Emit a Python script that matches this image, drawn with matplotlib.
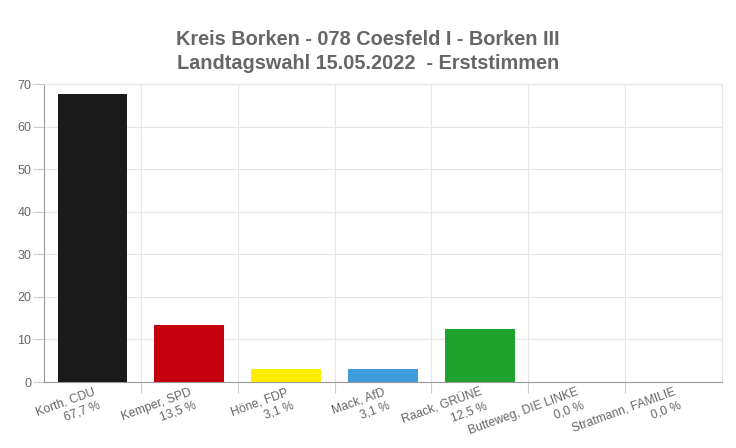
import matplotlib.pyplot as plt

plt.rcParams['font.family'] = ['Liberation Sans', 'DejaVu Sans']

names = ['Korth, CDU', 'Kemper, SPD', 'Höne, FDP', 'Mack, AfD',
         'Raack, GRÜNE', 'Butteweg, DIE LINKE', 'Stratmann, FAMILIE']
values = [67.7, 13.5, 3.1, 3.1, 12.5, 0.0, 0.0]
colors = ['#1a1a1a', '#c4000e', '#ffed00', '#3f9bdb', '#1fa22e', '#888888', '#888888']

labels = [n + '\n' + ('%.1f' % v).replace('.', ',') + ' %' for n, v in zip(names, values)]

fig = plt.figure(figsize=(7.36, 4.48), dpi=100)
ax = fig.add_axes([0.0598, 0.1473, 0.921, 0.665])

x = list(range(len(values)))
ax.bar(x, values, width=0.72, color=colors, zorder=3)

ax.set_xlim(-0.5, len(values) - 0.5)
ax.set_ylim(0, 70)
ax.set_yticks(range(0, 71, 10))
ax.set_xticks([i + 0.5 for i in x[:-1]], minor=False)
ax.set_xticklabels([])
ax.set_xticks(x, minor=True)
ax.set_xticklabels(labels, minor=True, rotation=20, ha='right',
                   rotation_mode='anchor', multialignment='right',
                   fontsize=8.7, color='#666666', linespacing=1.25)
ax.tick_params(axis='x', which='minor', length=0, pad=3)
ax.tick_params(axis='x', which='major', length=8, color='#cccccc')
ax.tick_params(axis='y', length=8, color='#cccccc', labelsize=9, labelcolor='#666666', pad=1)

ax.grid(True, which='major', color='#e6e6e6', linewidth=0.8, zorder=0)
for s in ['top', 'right']:
    ax.spines[s].set_color('#e6e6e6')
for s in ['left', 'bottom']:
    ax.spines[s].set_color('#999999')

fig.text(0.5, 0.933, 'Kreis Borken - 078 Coesfeld I - Borken III\nLandtagswahl 15.05.2022  - Erststimmen',
         ha='center', va='top', fontsize=14.3, fontweight='bold', color='#666666',
         linespacing=1.35)

fig.savefig('out.png', dpi=100)
